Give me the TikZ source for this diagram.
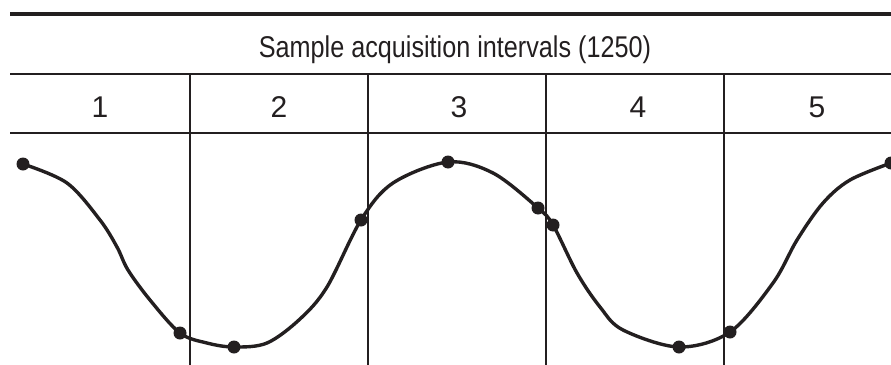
\documentclass[tikz,border=0pt]{standalone}
\usepackage{fontspec}
\setmainfont{Liberation Sans}
\definecolor{ink}{RGB}{35,31,32}
\begin{document}
\begin{tikzpicture}[x=1pt,y=-1pt,
  thin rule/.style={draw=ink,line width=1.7pt},
  thick rule/.style={draw=ink,line width=4.5pt},
  label/.style={text=ink,font=\fontsize{30}{30}\selectfont,inner sep=0pt,anchor=base},
  wave/.style={draw=ink,line width=3.4pt,line cap=round,line join=round},
  sample/.style={fill=ink}]
\useasboundingbox (0,0) rectangle (891,364);
\begin{scope}
\clip (0,0) rectangle (891,364);
% rules
\draw[thick rule] (10,14) -- (895,14);
\draw[thin rule] (10,74) -- (895,74);
\draw[thin rule] (10,133) -- (895,133);
\foreach \x in {190,368,546,724} \draw[thin rule] (\x,74) -- (\x,368);
% texts
\node[label] (title) at (455,57) {\scalebox{0.84}[1]{Sample acquisition intervals (1250)}};
\node[label] (n1) at (100,117) {1};
\node[label] (n2) at (279,117) {2};
\node[label] (n3) at (459,117) {3};
\node[label] (n4) at (638,117) {4};
\node[label] (n5) at (817,117) {5};
% wave
\draw[wave] plot[smooth,tension=0.55] coordinates {
 (23,164) (67,183) (100,220) (117,247) (128,270) (150,300) (180,333) (207,343)
 (234,347) (267,343) (300,319) (327,287) (361,220) (393,183) (448,162) (493,173)
 (538,208) (553,225) (577,273) (600,307) (623,330) (679,347) (730,332) (773,283)
 (797,240) (823,203) (850,180) (891,163)};
% samples
\foreach \p in {(23,164),(180,333),(234,347),(361,220),(448,162),(538,208),(553,225),(679,347),(730,332),(891,163)}
  \fill[sample] \p circle[radius=6.5];
\end{scope}
\end{tikzpicture}
\end{document}
